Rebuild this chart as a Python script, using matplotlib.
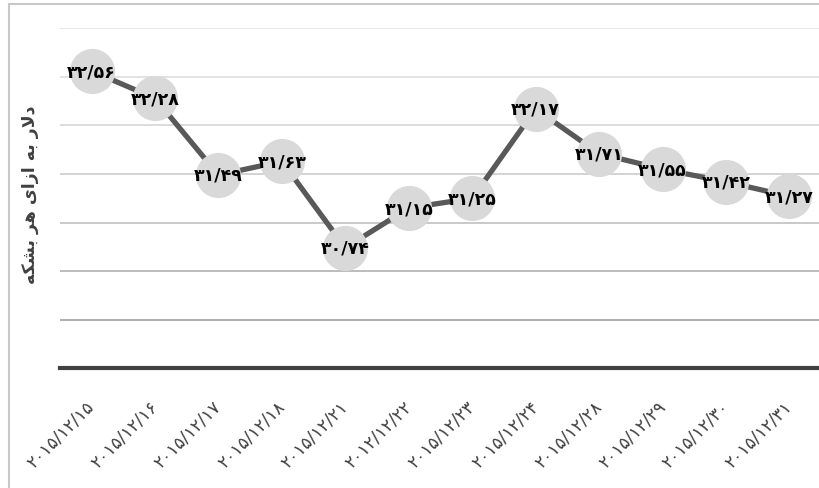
import matplotlib
matplotlib.use("Agg")
import matplotlib.pyplot as plt
from matplotlib.patches import Rectangle

plt.rcParams['font.family'] = ['DejaVu Sans', 'Noto Sans']

dates = ["۲۰۱۵/۱۲/۱۵", "۲۰۱۵/۱۲/۱۶", "۲۰۱۵/۱۲/۱۷", "۲۰۱۵/۱۲/۱۸",
         "۲۰۱۵/۱۲/۲۱", "۲۰۱۲/۱۲/۲۲", "۲۰۱۵/۱۲/۲۳", "۲۰۱۵/۱۲/۲۴",
         "۲۰۱۵/۱۲/۲۸", "۲۰۱۵/۱۲/۲۹", "۲۰۱۵/۱۲/۳۰", "۲۰۱۵/۱۲/۳۱"]
prices = [32.56, 32.28, 31.49, 31.63, 30.74, 31.15, 31.25, 32.17,
          31.71, 31.55, 31.42, 31.27]
grid_levels = [30.0, 30.5, 31.0, 31.5, 32.0, 32.5, 33.0]
y_min, y_max = 29.5, 33.0

# "دلار به ازای هر بشکه" shaped with presentation forms, in visual (LTR) order
ylabel_text = ("\uFEEA\uFB91\uFEB8\uFE91" + " " + "\uFEAE\uFEEB" + " " +
               "\uFEEF\uFE8D\uFEAF\uFE8D" + " " + "\uFEEA\uFE91" + " " +
               "\uFEAD\uFEFB\uFEA9")

fa_digits = str.maketrans("0123456789.", "۰۱۲۳۴۵۶۷۸۹/")

def fa(v):
    return f"{v:.2f}".translate(fa_digits)

W, H = 820, 489
fig = plt.figure(figsize=(W / 100, H / 100), dpi=100)
left, right, top, bottom = 59.8, 821.2, 29.3, 369.3
ax = fig.add_axes([left / W, 1 - bottom / H, (right - left) / W, (bottom - top) / H])

# outer chart border
fig.patches.append(Rectangle((9 / W, -0.1), 1.2, 1.1 - 4.5 / H, transform=fig.transFigure,
                             fill=False, edgecolor="#c8c8c8", linewidth=1.5, zorder=0))

x = list(range(len(dates)))
grid_colors = ["#a0a0a0", "#b0b0b0", "#c0c0c0", "#cccccc", "#d6d6d6", "#dedede", "#e4e4e4"]
for g, c in zip(grid_levels, grid_colors):
    ax.axhline(g, color=c, linewidth=1.2, zorder=1)

ax.plot(x, prices, color="#595959", linewidth=3.8, zorder=2, solid_capstyle="butt")
ax.plot(x, prices, linestyle="none", marker="o", markersize=32.5,
        markerfacecolor="#d9d9d9", markeredgecolor="none", zorder=3)
for xi, v in zip(x, prices):
    ax.text(xi, v, fa(v), ha="center", va="center", fontsize=12.5, fontweight="bold",
            color="black", zorder=4)

ax.set_xlim(-0.5, len(dates) - 0.5)
ax.set_ylim(y_min, y_max)
ax.set_yticks([])
for s in ["top", "right", "left"]:
    ax.spines[s].set_visible(False)
ax.spines["bottom"].set_color("#404040")
ax.spines["bottom"].set_linewidth(3)
ax.set_xticks(x)
ax.set_xticklabels(dates, rotation=45, ha="right", va="center", rotation_mode="anchor",
                   fontsize=12.5, color="#404040")
ax.tick_params(axis="x", length=0, pad=25)
ax.patch.set_alpha(0)

fig.text(30 / W, 1 - 195 / H, ylabel_text, rotation=90, ha="center", va="center",
         fontsize=12.5, fontweight="bold", color="#404040")

fig.savefig("out.png", dpi=100)
